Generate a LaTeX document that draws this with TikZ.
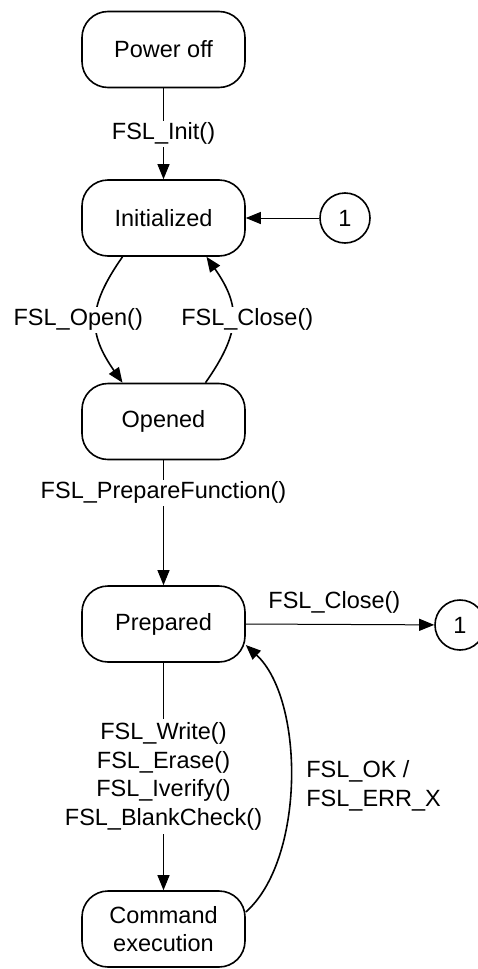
\documentclass[tikz,border=0pt]{standalone}
\usepackage{fontspec}
\setmainfont{Liberation Sans}
\usetikzlibrary{arrows.meta}
\begin{document}
\begin{tikzpicture}[x=1pt,y=-1pt,
  every node/.style={font=\fontsize{23.5pt}{28.5pt}\selectfont},
  state/.style={draw,line width=1.6pt,rounded corners=26pt,minimum width=163pt,minimum height=76pt,inner sep=2pt,align=center},
  conn/.style={draw,line width=1.6pt,circle,minimum size=50pt,inner sep=0pt},
  tr/.style={line width=1pt,-{Triangle[length=15pt,width=12pt]}},
  trc/.style={line width=1.6pt,-{Triangle[length=15pt,width=12pt]}},
  lbl/.style={fill=white,inner sep=2pt,align=center}]
\useasboundingbox (0,0) rectangle (478,969);
\node[state] (off) at (163.5,49.5) {Power off};
\node[state] (init) at (163.5,218) {Initialized};
\node[state] (open) at (163.5,421.5) {Opened};
\node[state] (prep) at (163.5,624) {Prepared};
\node[state] (cmd) at (163.5,929) {Command\\[-1pt]execution};
\node[conn] (c1a) at (345,218) {1};
\node[conn] (c1b) at (460,625) {1};

\draw[tr] (off) -- node[lbl]{FSL\_Init()} (init);
\draw[tr] (c1a) -- (init);
\draw[trc] ([xshift=-41pt]init.south) .. controls +(-35,50) and +(-35,-50) .. node[lbl,xshift=-18pt]{FSL\_Open()} ([xshift=-41pt]open.north);
\draw[trc] ([xshift=42pt]open.north) .. controls +(35,-50) and +(35,50) .. node[lbl,xshift=15pt]{FSL\_Close()} ([xshift=43pt]init.south);
\draw[tr] (open) -- node[lbl,pos=0.26]{FSL\_PrepareFunction()} (prep);
\draw[tr] (prep.east) -- node[pos=0.47,yshift=22pt]{FSL\_Close()} (c1b);
\draw[tr] (prep) -- node[lbl,inner sep=4pt]{FSL\_Write()\\FSL\_Erase()\\FSL\_Iverify()\\FSL\_BlankCheck()} (cmd);
\draw[trc] ([yshift=17pt]cmd.east) .. controls (305,860) and (305,700) .. node[anchor=west,align=left,xshift=12pt,yshift=-6pt]{FSL\_OK /\\FSL\_ERR\_X} ([yshift=-21pt]prep.east);
\end{tikzpicture}
\end{document}
